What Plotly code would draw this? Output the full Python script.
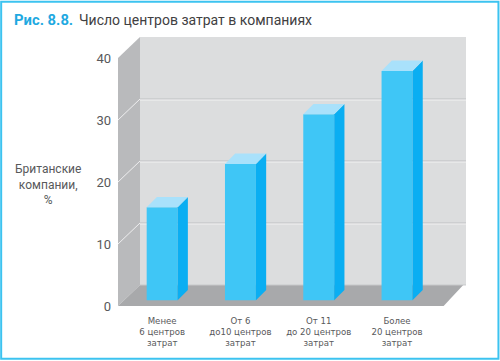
import plotly.graph_objects as go

categories = ["Менее<br>6 центров<br>затрат", "От 6<br>до10 центров<br>затрат",
              "От 11<br>до 20 центров<br>затрат", "Более<br>20 центров<br>затрат"]
values = [15, 22, 30, 37]
y_ticks = [0, 10, 20, 30, 40]
x_pos = [0, 1, 2, 3]

W, H = 500, 361
DX, DY = 0.281, 3.39          # wall depth in axis units
BAR_W, BAR_DX, BAR_DY = 0.395, 0.131, 1.66
BASE = 0.92
XMIN, XMAX = -0.564, 3.881
YMAX = 40 + DY
TXT = "#58595b"
FONT = "Roboto, 'Open Sans', sans-serif"

fig = go.Figure()


def poly(pts):
    return "M" + " L".join(f"{x} {y}" for x, y in pts) + " Z"


shapes = [
    dict(type="rect", xref="x", yref="y", x0=XMIN + DX, x1=XMAX, y0=DY, y1=YMAX,
         fillcolor="#dcddde", line_width=0, layer="below"),
    dict(type="path", xref="x", yref="y", layer="below", fillcolor="#b9babc", line_width=0,
         path=poly([(XMIN, 0), (XMIN + DX, DY), (XMIN + DX, YMAX), (XMIN, 40)])),
    dict(type="path", xref="x", yref="y", layer="below", fillcolor="#a8a9ab", line_width=0,
         path=poly([(XMIN, 0), (XMIN + DX, DY), (XMAX - 0.035, DY), (XMAX - 0.035 - DX + 0.03, 0)])),
    dict(type="line", xref="x", yref="y", x0=XMIN, x1=XMAX - 0.28, y0=-0.1, y1=-0.1,
         line=dict(color="#dfe0e1", width=1), layer="below"),
    dict(type="line", xref="x", yref="y", x0=XMIN + DX, x1=XMAX, y0=DY, y1=DY,
         line=dict(color="#c9cacc", width=1), layer="below"),
]
for t in y_ticks[1:-1]:
    shapes.append(dict(type="line", xref="x", yref="y", x0=XMIN + DX, x1=XMAX, y0=t + DY, y1=t + DY,
                       line=dict(color="#bfc0c2", width=1), layer="below"))
    shapes.append(dict(type="line", xref="x", yref="y", x0=XMIN + DX, x1=XMAX, y0=t + DY - 0.17, y1=t + DY - 0.17,
                       line=dict(color="#f0f0f1", width=1), layer="below"))
    shapes.append(dict(type="line", xref="x", yref="y", x0=XMIN, x1=XMIN + DX, y0=t, y1=t + DY,
                       line=dict(color="#eeeeef", width=1), layer="below"))
# outer frame
shapes.append(dict(type="rect", xref="paper", yref="paper",
                   x0=-117 / 348.5, x1=381 / 348.5, y0=-53 / 270, y1=35.5 / 270 + 1,
                   line=dict(color="#3cc3f0", width=2), fillcolor="rgba(0,0,0,0)"))

fig.add_trace(go.Bar(x=x_pos, y=values, base=BASE, width=BAR_W, marker=dict(color="#3fc6f6", line_width=0),
                     hoverinfo="skip"))

for x, v in zip(x_pos, values):
    l, r = x - BAR_W / 2, x + BAR_W / 2
    b, t = BASE, BASE + v
    fig.add_trace(go.Scatter(x=[r, r + BAR_DX, r + BAR_DX, r, r], y=[b, b + BAR_DY, t + BAR_DY, t, b],
                             fill="toself", fillcolor="#0aaef2", mode="none", hoverinfo="skip"))
    fig.add_trace(go.Scatter(x=[l, l + BAR_DX, r + BAR_DX, r, l], y=[t, t + BAR_DY, t + BAR_DY, t, t],
                             fill="toself", fillcolor="#a9e1fb", mode="none", hoverinfo="skip"))

annotations = [
    dict(xref="paper", yref="paper", x=-106 / 348.5, y=(306.5 - 19.5) / 270, xanchor="left", yanchor="middle",
         text="<b>Рис. 8.8.</b>", showarrow=False, font=dict(size=14.8, color="#1fa9e1", family=FONT)),
    dict(xref="paper", yref="paper", x=-41 / 348.5, y=(306.5 - 19.5) / 270, xanchor="left", yanchor="middle",
         text="Число центров затрат в компаниях", showarrow=False, font=dict(size=14, color="#414042", family=FONT)),
    dict(xref="paper", yref="paper", x=-70.5 / 348.5, y=(306.5 - 184.5) / 270, xanchor="center", yanchor="middle",
         text="Британские<br>компании,<br>%", showarrow=False, font=dict(size=12, color=TXT, family=FONT)),
]

fig.update_layout(
    width=W, height=H, autosize=False, showlegend=False,
    margin=dict(l=118, r=W - 466.5, t=36.5, b=H - 306.5, pad=0),
    paper_bgcolor="white", plot_bgcolor="white",
    font=dict(family=FONT, color=TXT),
    shapes=shapes,
    xaxis=dict(range=[XMIN, XMAX], tickmode="array", tickvals=x_pos, ticktext=categories, automargin=False,
               showgrid=False, zeroline=False, showline=False, ticks="",
               tickfont=dict(size=8.6, color=TXT, family="DejaVu Sans"), ticklabelstandoff=8),
    yaxis=dict(range=[0, YMAX], tickmode="array", tickvals=y_ticks, showgrid=False, zeroline=False, automargin=False,
               showline=False, ticks="", tickfont=dict(size=13, color=TXT), ticklabelstandoff=6),
    annotations=annotations,
)

fig.write_html("out.html", config=dict(displayModeBar=False),
               post_script="document.body.style.margin='0';document.documentElement.style.overflow='hidden';")
